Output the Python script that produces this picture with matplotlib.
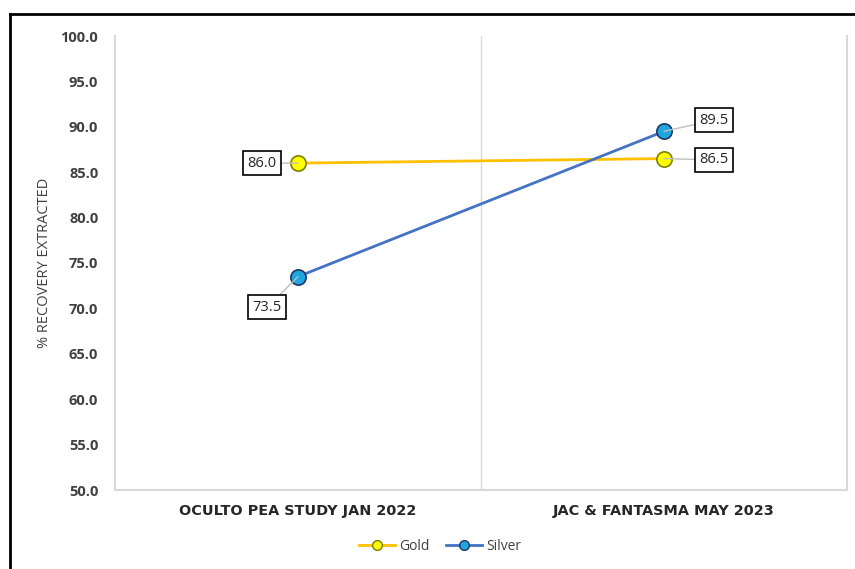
import matplotlib
matplotlib.use("Agg")
import matplotlib.pyplot as plt
from matplotlib.lines import Line2D

categories = ["OCULTO PEA STUDY JAN 2022", "JAC & FANTASMA MAY 2023"]
gold = [86.0, 86.5]
silver = [73.5, 89.5]
y_ticks = [50, 55, 60, 65, 70, 75, 80, 85, 90, 95, 100]

plt.rcParams['font.family'] = ['Open Sans', 'DejaVu Sans']

fig = plt.figure(figsize=(8.55, 5.69), dpi=100)
ax = fig.add_axes([115/855, 1-490/569, (847-115)/855, (490-36)/569])

gold_line = "#FFC000"
gold_face = "#FFFF00"
gold_edge = "#7F7F00"
silver_line = "#4472C4"
silver_face = "#1FA5E0"
silver_edge = "#1F3864"

x = list(range(len(categories)))
ax.plot(x, gold, color=gold_line, lw=2, marker="o", ms=11,
        mfc=gold_face, mec=gold_edge, mew=1.2, zorder=4, label="Gold")
ax.plot(x, silver, color=silver_line, lw=2, marker="o", ms=11,
        mfc=silver_face, mec=silver_edge, mew=1.2, zorder=4, label="Silver")

ax.set_xlim(-0.5, 1.5)
ax.set_ylim(50, 100)
ax.set_yticks(y_ticks)
ax.set_yticklabels([f"{v:.1f}" for v in y_ticks], fontsize=10.5, fontweight="bold", color="#404040")
ax.set_xticks(x)
ax.set_xticklabels(categories)
for lbl in ax.get_xticklabels():
    lbl.set_fontfamily(["DejaVu Sans"])
    lbl.set_fontsize(10.4)
    lbl.set_fontweight("bold")
    lbl.set_color("#262626")
ax.tick_params(axis="both", length=0)
ax.tick_params(axis="y", pad=12)
ax.tick_params(axis="x", pad=10)

ax.axvline(0.5, color="#D9D9D9", lw=1, zorder=1)
for side in ["left", "bottom", "right"]:
    ax.spines[side].set_color("#D9D9D9")
    ax.spines[side].set_linewidth(1.5)
ax.spines["top"].set_visible(False)

fig.text(45/855, 1-263/569, "% RECOVERY EXTRACTED", rotation=90, ha="center", va="center",
         fontsize=10.5, color="#404040")

bbox = dict(boxstyle="square,pad=0.3", fc="white", ec="black", lw=1.2)
arrow = dict(arrowstyle="-", color="#BFBFBF", lw=1, shrinkA=0, shrinkB=0)
ax.annotate(f"{gold[0]:.1f}", xy=(x[0], gold[0]), xytext=(-26, 0), textcoords="offset points",
            ha="center", va="center", fontsize=10.5, color="#262626", bbox=bbox, arrowprops=arrow, zorder=5)
ax.annotate(f"{silver[0]:.1f}", xy=(x[0], silver[0]), xytext=(-22, -22), textcoords="offset points",
            ha="center", va="center", fontsize=10.5, color="#262626", bbox=bbox, arrowprops=arrow, zorder=5)
ax.annotate(f"{silver[1]:.1f}", xy=(x[1], silver[1]), xytext=(36, 8), textcoords="offset points",
            ha="center", va="center", fontsize=10.5, color="#262626", bbox=bbox, arrowprops=arrow, zorder=5)
ax.annotate(f"{gold[1]:.1f}", xy=(x[1], gold[1]), xytext=(36, -1), textcoords="offset points",
            ha="center", va="center", fontsize=10.5, color="#262626", bbox=bbox, arrowprops=arrow, zorder=5)

handles = [
    Line2D([], [], color=gold_line, lw=2, marker="o", ms=7, mfc=gold_face, mec=gold_edge),
    Line2D([], [], color=silver_line, lw=2, marker="o", ms=7, mfc=silver_face, mec=silver_edge),
]
fig.legend(handles, ["Gold", "Silver"], loc="center", bbox_to_anchor=(440/855, 1-546/569),
           ncol=2, frameon=False, fontsize=10, handlelength=2.6, handletextpad=0.3,
           columnspacing=1.2, labelcolor="#404040")

# figure border lines (top and left)
fig.add_artist(Line2D([10/855, 1], [1-14/569, 1-14/569], color="black", lw=2, transform=fig.transFigure))
fig.add_artist(Line2D([10/855, 10/855], [0, 1-14/569], color="black", lw=2, transform=fig.transFigure))

fig.savefig("out.png", dpi=100)
